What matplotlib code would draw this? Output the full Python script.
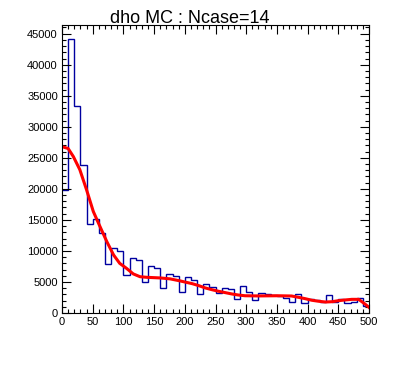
import numpy as np
import matplotlib
matplotlib.use("Agg")
import matplotlib.pyplot as plt
from matplotlib.ticker import MultipleLocator

plt.rcParams['font.family'] = ['Liberation Sans', 'DejaVu Sans']

# histogram: 50 bins of width 10 on [0, 500]
bin_edges = list(range(0, 510, 10))
counts = [19800, 44150, 33340, 23870, 14300, 15110, 12850, 7960, 10430, 10050,
          6080, 8820, 8550, 4950, 7530, 7310, 4000, 6270, 5970, 3330,
          5750, 5270, 3010, 4620, 4250, 3170, 4090, 3820, 2200, 4300,
          3330, 2040, 3220, 3060, 2900, 2740, 2470, 1720, 3120, 1560,
          2200, 2150, 1720, 2850, 1820, 2260, 1560, 1820, 2420, 1180]

# fitted curve
fit_x = [0, 10, 18.5, 29, 40, 51, 62, 73, 84, 94, 105, 116, 127, 138, 160, 176,
         191, 202, 212, 223, 233, 244, 255, 266, 277, 287, 298, 320, 352, 374,
         385, 396, 407, 418, 429, 440, 450, 461, 472, 483, 488, 494, 500]
fit_y = [26800, 26500, 25200, 23100, 19850, 16350, 13900, 11500, 9350, 8000,
         7200, 6300, 5850, 5750, 5650, 5500, 5200, 4950, 4730, 4400, 4050,
         3760, 3500, 3280, 3060, 2900, 2780, 2750, 2780, 2740, 2530, 2310,
         2050, 1890, 1770, 1820, 1980, 2100, 2200, 2200, 1850, 1400, 900]

title = "dho MC : Ncase=14"

W, H = 396, 373
fig = plt.figure(figsize=(W / 100, H / 100), dpi=100)
ax = fig.add_axes([62 / W, 1 - 313 / H, (369 - 62) / W, (313 - 25) / H])

ax.stairs(counts, bin_edges, baseline=None, color='#0000a0', linewidth=1.0)
ax.plot(fit_x, fit_y, color='#ff0000', linewidth=2.2)

ax.set_xlim(0, 500)
ax.set_ylim(0, 46400)

ax.xaxis.set_major_locator(MultipleLocator(50))
ax.xaxis.set_minor_locator(MultipleLocator(10))
ax.yaxis.set_major_locator(MultipleLocator(5000))
ax.yaxis.set_minor_locator(MultipleLocator(1000))

ax.tick_params(which='both', direction='in', top=True, right=True,
               width=0.8, labelsize=8, pad=3)
ax.tick_params(which='major', length=6.5)
ax.tick_params(which='minor', length=3.2)
for sp in ax.spines.values():
    sp.set_linewidth(0.8)

fig.text(190 / W, 1 - 23 / H, title, ha='center', va='baseline', fontsize=13)

fig.savefig("out.png", dpi=100)
